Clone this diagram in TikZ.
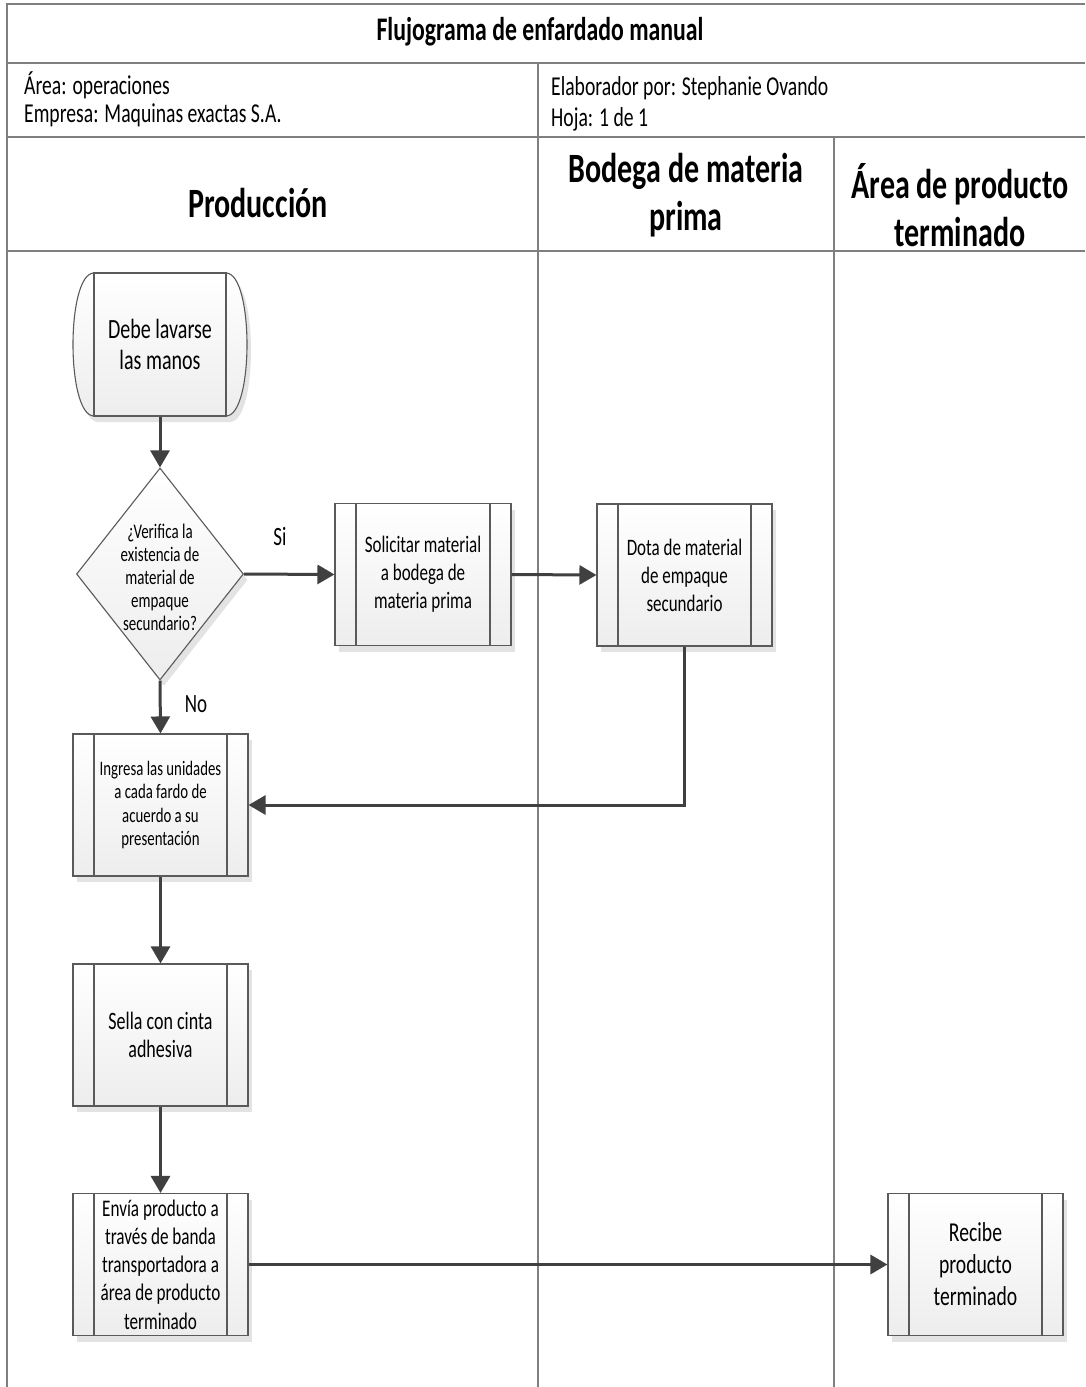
\documentclass[tikz,border=0pt]{standalone}
\usepackage{fontspec}
% tall, narrow Calibri-like lettering
\setmainfont{Carlito}[FakeStretch=0.72]
\usetikzlibrary{shapes.geometric,arrows.meta,shadows}
\definecolor{rule}{HTML}{7F7F7F}
\definecolor{edge}{HTML}{5A5A5A}
\definecolor{ink}{HTML}{404040}
\definecolor{shade}{HTML}{E3E3E3}
\newcommand{\fs}[2]{\fontsize{#1}{#2}\selectfont}
\begin{document}
\begin{tikzpicture}[x=1pt,y=-1pt,
  frame/.style={draw=rule, line width=1.6pt},
  boxfill/.style={top color=white, bottom color=gray!14, draw=edge, line width=1.1pt,
    drop shadow={shadow xshift=4pt, shadow yshift=-6pt, fill=shade, opacity=1}},
  proc/.style={boxfill, rectangle, minimum width=176pt, minimum height=142pt,
    inner sep=0pt, align=center, text=black,
    path picture={\draw[edge, line width=1.1pt]
      ([xshift=21pt]path picture bounding box.north west) -- ([xshift=21pt]path picture bounding box.south west)
      ([xshift=-21pt]path picture bounding box.north east) -- ([xshift=-21pt]path picture bounding box.south east);}},
  flow/.style={draw=ink, line width=3pt, -{Triangle[length=17pt,width=19pt]}},
  head/.style={font=\bfseries\fs{41.7}{48}, align=center},
  info/.style={font=\fs{27.3}{30}, anchor=west, inner sep=0pt}
]
\useasboundingbox (0,0) rectangle (1085,1387);
\fill[white] (0,0) rectangle (1085,1387);

% table frame
\draw[frame] (7,1387) -- (7,4) -- (1085,4);
\draw[frame] (7,63) -- (1085,63);
\draw[frame] (538,63) -- (538,137);
\draw[frame] (7,137) -- (1085,137);
\draw[frame] (538,137) -- (538,1387);
\draw[frame] (834,137) -- (834,1387);
\draw[frame] (7,251) -- (1085,251);

% title and information rows
\node[font=\bfseries\fs{33}{36}] (title) at (540,32) {Flujograma de enfardado manual};
\node[info] (area) at (24,85) {Área: operaciones};
\node[info] (empresa) at (24,115) {Empresa: Maquinas exactas S.A.};
\node[info] (autor) at (551,88) {Elaborador por: Stephanie Ovando};
\node[info] (hoja) at (551,119) {Hoja: 1 de 1};

% lane headers
\node[head] (lane1) at (258,203) {Producción};
\node[head] (lane2) at (686,195) {Bodega de materia\\prima};
\node[head] (lane3) at (960,205) {Área de producto\\terminado};

% start
\path[boxfill] (94,273) -- (226,273) .. controls (254,273) and (254,416) .. (226,416)
  -- (94,416) .. controls (66,416) and (66,273) .. (94,273) -- cycle;
\node[draw=edge, line width=1.1pt, minimum width=132pt, minimum height=143pt,
  inner sep=0pt, align=center, font=\fs{27.8}{31}] (start) at (160,344.5) {Debe lavarse\\las manos};

% decision
\node[boxfill, diamond, minimum width=167pt, minimum height=212pt, inner sep=0pt] (dec) at (160,574) {};
\node[font=\fs{20.8}{23}, align=center, inner sep=0pt] (dectext) at (160,577)
  {¿Verifica la\\existencia de\\material de\\empaque\\secundario?};

% processes
\node[proc, font=\fs{23.6}{28}] (sol) at (423,574.5) {Solicitar material\\a bodega de\\materia prima};
\node[proc, font=\fs{23.6}{28}, minimum width=175pt] (dota) at (684.5,575) {Dota de material\\de empaque\\secundario};
\node[proc, minimum width=175pt, font=\fs{20.6}{23.5}] (ing) at (160.5,805) {Ingresa las unidades\\a cada fardo de\\acuerdo a su\\presentación};
\node[proc, minimum width=175pt, font=\fs{25}{27.5}] (sella) at (160.5,1035) {Sella con cinta\\adhesiva};
\node[proc, minimum width=175pt, font=\fs{23.8}{28.3}] (envia) at (160.5,1264.5) {Envía producto a\\través de banda\\transportadora a\\área de producto\\terminado};
\node[proc, minimum width=175pt, font=\fs{27.3}{32}] (recibe) at (975.5,1264.5) {Recibe\\producto\\terminado};

% connectors
\draw[flow] (start.south) -- (dec.north);
\draw[flow] (dec.east) -- (sol.west);
\draw[flow] (sol.east) -- (dota.west);
\draw[flow] (dec.south) -- (ing.north);
\draw[flow] (dota.south) |- (ing.east);
\draw[flow] (ing.south) -- (sella.north);
\draw[flow] (sella.south) -- (envia.north);
\draw[flow] (envia.east) -- (recibe.west);

% branch labels
\node[font=\fs{26.4}{28}] (si) at (280,537) {Si};
\node[font=\fs{26.4}{28}] (no) at (196,704) {No};
\end{tikzpicture}
\end{document}
